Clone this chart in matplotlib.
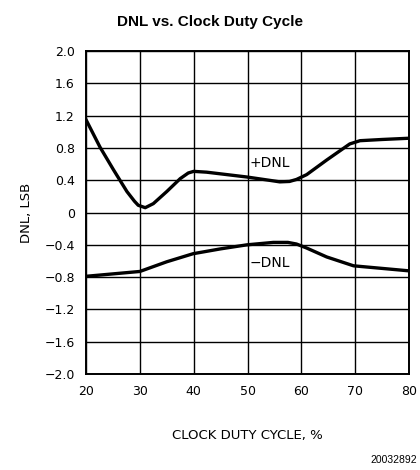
import matplotlib
matplotlib.use("Agg")
import matplotlib.pyplot as plt

# values
duty_pos = [20, 22.6, 25.1, 27.6, 29.0, 29.7, 31.0, 32.5, 35.0, 37.5, 39.0,
            40.0, 42.4, 44.9, 49.9, 54.0, 56.0, 57.8, 59.1, 61.0, 64.7, 69.0, 70.9, 75.0, 79.9]
dnl_pos = [1.15, 0.81, 0.53, 0.26, 0.14, 0.09, 0.06, 0.11, 0.26, 0.42, 0.49,
           0.51, 0.50, 0.48, 0.44, 0.40, 0.38, 0.385, 0.41, 0.47, 0.65, 0.85, 0.89, 0.905, 0.92]

duty_neg = [20, 30.0, 35.0, 39.9, 45.0, 49.9, 54.8, 57.5, 59.1, 61.0, 64.7, 69.7, 79.6]
dnl_neg = [-0.79, -0.73, -0.61, -0.51, -0.45, -0.40, -0.37, -0.37, -0.39, -0.44, -0.55, -0.66, -0.72]

x_ticks = [20, 30, 40, 50, 60, 70, 80]
y_ticks = [2.0, 1.6, 1.2, 0.8, 0.4, 0, -0.4, -0.8, -1.2, -1.6, -2.0]
y_labels = ['2.0', '1.6', '1.2', '0.8', '0.4', '0', '\u22120.4', '\u22120.8',
            '\u22121.2', '\u22121.6', '\u22122.0']

plt.rcParams['font.family'] = ['DejaVu Sans']

fig = plt.figure(figsize=(4.2, 4.7), dpi=100)
ax = fig.add_axes([0.2048, 0.2043, 0.769, 0.687])

ax.plot(duty_pos, dnl_pos, color='black', lw=2.4, solid_joinstyle='round')
ax.plot(duty_neg, dnl_neg, color='black', lw=2.4, solid_joinstyle='round')

ax.set_xlim(20, 80)
ax.set_ylim(-2.0, 2.0)
ax.set_xticks(x_ticks)
ax.set_yticks(y_ticks)
ax.set_yticklabels(y_labels)
ax.grid(True, color='black', lw=1.0)
ax.tick_params(length=0, pad=8, labelsize=9)
for s in ax.spines.values():
    s.set_linewidth(1.4)

ax.text(50.3, 0.61, '+DNL', fontsize=10, va='center', ha='left')
ax.text(50.3, -0.63, '\u2212DNL', fontsize=10, va='center', ha='left')

ax.set_xlabel('CLOCK DUTY CYCLE, %', fontsize=9.5, labelpad=22)
ax.set_ylabel('DNL, LSB', fontsize=9.5, labelpad=8)

fig.text(0.5, 0.953, 'DNL vs. Clock Duty Cycle', ha='center', va='center',
         fontsize=11, fontweight='bold', family='Liberation Sans')
fig.text(0.993, 0.021, '20032892', ha='right', va='center', fontsize=7.5,
         family='Liberation Sans')

fig.savefig('out.png', dpi=100)
